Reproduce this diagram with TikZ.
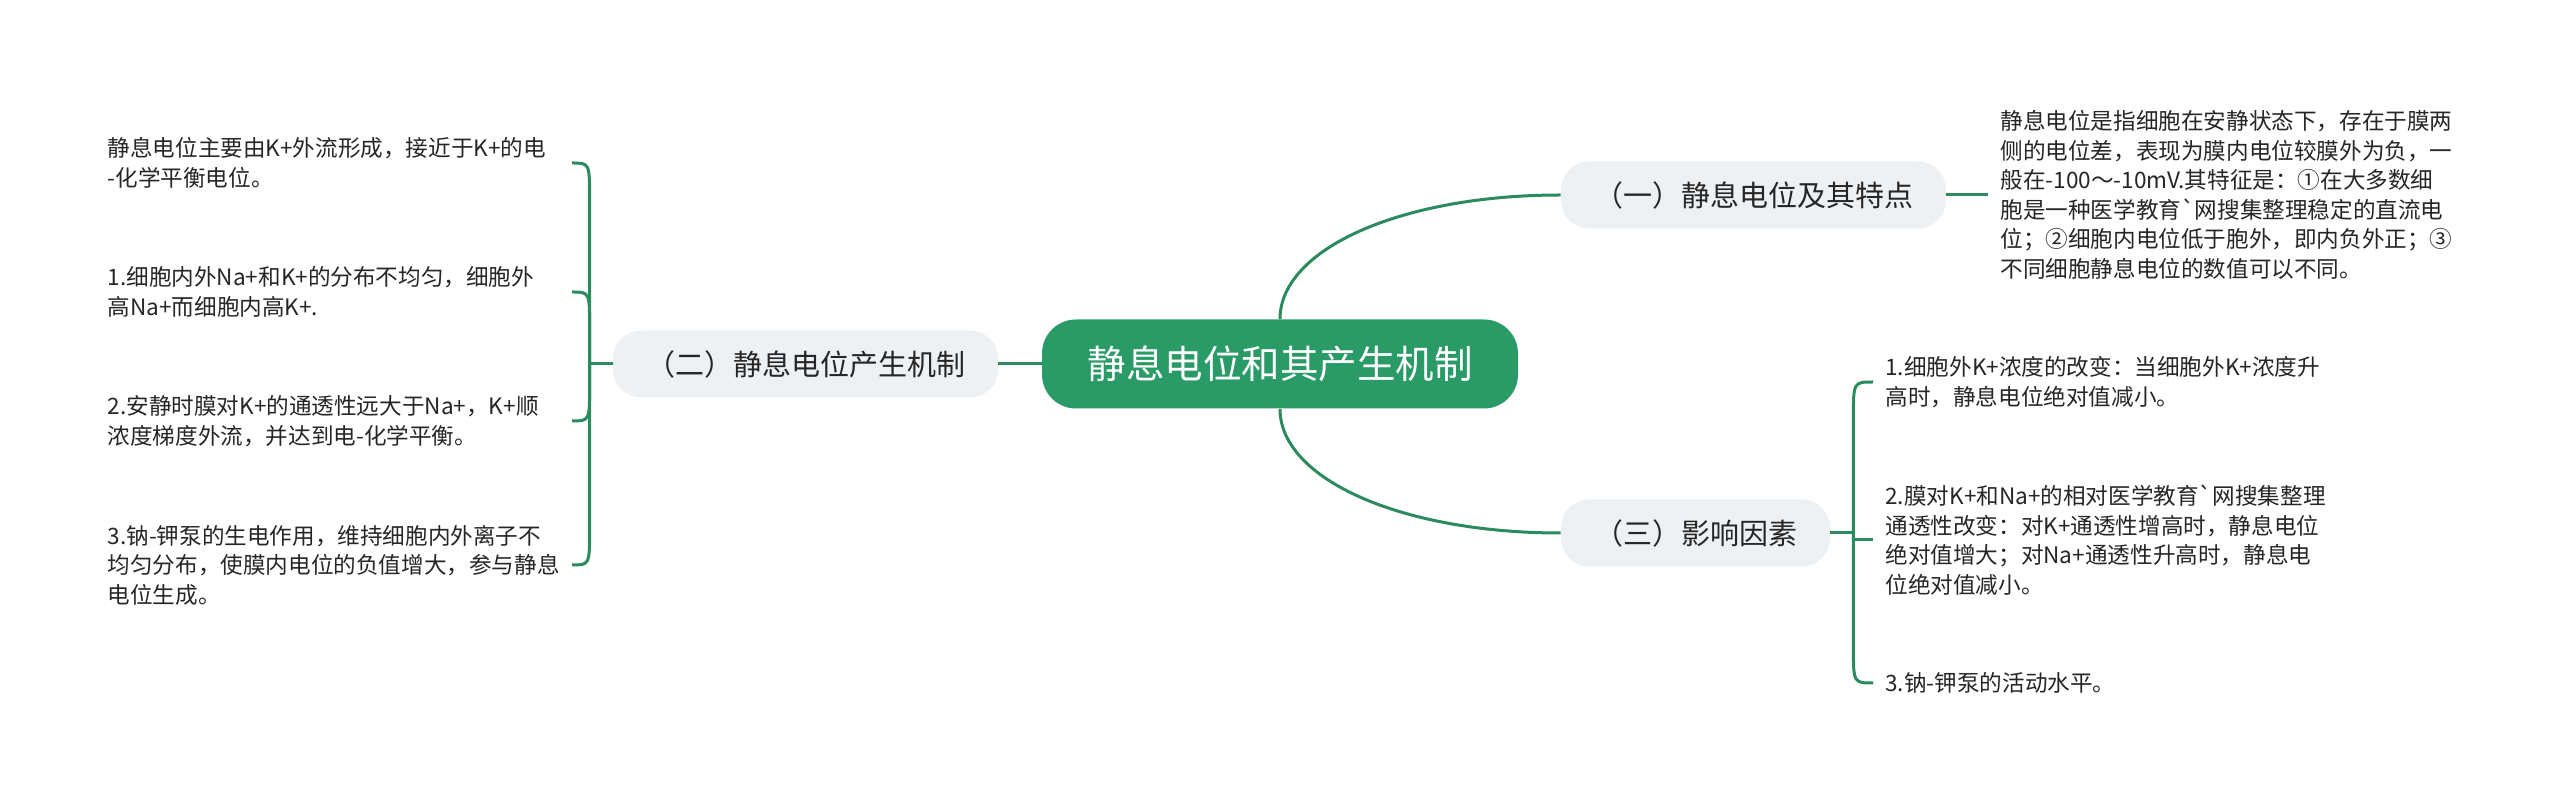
\documentclass[tikz,border=0pt]{standalone}
\usepackage{fontspec}
\setmainfont{Noto Sans CJK SC}
\usetikzlibrary{calc}

\definecolor{rootgreen}{HTML}{2A9A66}
\definecolor{linkgreen}{HTML}{2B8A5E}
\definecolor{topicgray}{HTML}{EEF1F4}
\definecolor{inkgray}{HTML}{262626}

\begin{document}
\begin{tikzpicture}[x=0.5pt, y=-0.5pt,
    root/.style={fill=rootgreen, text=white, rounded corners=17pt, inner xsep=22.75pt, minimum height=44.5pt, font=\fontsize{19.25}{23}\selectfont},
    topic/.style={fill=topicgray, text=inkgray, rounded corners=14pt, inner xsep=16.5pt, minimum height=33.5pt, font=\fontsize{14.5}{17}\selectfont},
    leaf/.style={text=inkgray, align=left, text width=226pt, inner xsep=6pt, inner ysep=0pt, font=\fontsize{11.3}{14.75}\selectfont},
    link/.style={draw=linkgreen, line width=1.5pt}]
            \useasboundingbox (0,0) rectangle (2560,806);
            \fill[white] (0,0) rectangle (2560,806);

            %中心とトピックを書く
            \node[root] (c) at (1280,364) {静息电位和其产生机制};
            \node[topic] (b1) at (1753.5,195) {（一）静息电位及其特点};
            \node[topic] (b2) at (805.5,364) {（二）静息电位产生机制};
            \node[topic] (b3) at (1695.5,533) {（三）影响因素};

            %葉を書く
            \node[leaf, anchor=west] (t1) at (1988,195) {静息电位是指细胞在安静状态下，存在于膜两\\侧的电位差，表现为膜内电位较膜外为负，一\\般在-100～-10mV.其特征是：①在大多数细\\胞是一种医学教育\textasciigrave 网搜集整理稳定的直流电\\位；②细胞内电位低于胞外，即内负外正；③\\不同细胞静息电位的数值可以不同。};

            \node[leaf, anchor=east] (m1) at (572,163) {静息电位主要由K+外流形成，接近于K+的电\\-化学平衡电位。};
            \node[leaf, anchor=east] (m2) at (572,292) {1.细胞内外Na+和K+的分布不均匀，细胞外\\高Na+而细胞内高K+.};
            \node[leaf, anchor=east] (m3) at (572,421) {2.安静时膜对K+的通透性远大于Na+，K+顺\\浓度梯度外流，并达到电-化学平衡。};
            \node[leaf, anchor=east] (m4) at (572,565) {3.钠-钾泵的生电作用，维持细胞内外离子不\\均匀分布，使膜内电位的负值增大，参与静息\\电位生成。};

            \node[leaf, anchor=west] (f1) at (1873,382) {1.细胞外K+浓度的改变：当细胞外K+浓度升\\高时，静息电位绝对值减小。};
            \node[leaf, anchor=west] (f2) at (1873,540) {2.膜对K+和Na+的相对医学教育\textasciigrave 网搜集整理\\通透性改变：对K+通透性增高时，静息电位\\绝对值增大；对Na+通透性升高时，静息电\\位绝对值减小。};
            \node[leaf, anchor=west] (f3) at (1873,683) {3.钠-钾泵的活动水平。};

            %線を書く
            \draw[link] (c.north) .. controls +(0,-70) and +(-160,0) .. (b1.west);
            \draw[link] (c.south) .. controls +(0,70) and +(-160,0) .. (b3.west);
            \draw[link] (c.west) -- (b2.east);
            \draw[link] (b1.east) -- (t1.west);

            \coordinate (lt) at ($(b2.west)+(-23,0)$);
            \draw[link] (b2.west) -- (lt);
            \draw[link] (lt) -- ($(lt |- m1.east)+(0,36)$) .. controls (lt |- m1.east) .. (m1.east);
            \draw[link] (lt) -- ($(lt |- m2.east)+(0,36)$) .. controls (lt |- m2.east) .. (m2.east);
            \draw[link] (lt) -- ($(lt |- m3.east)+(0,-36)$) .. controls (lt |- m3.east) .. (m3.east);
            \draw[link] (lt) -- ($(lt |- m4.east)+(0,-36)$) .. controls (lt |- m4.east) .. (m4.east);

            \coordinate (rt) at ($(b3.east)+(23,0)$);
            \draw[link] (b3.east) -- (rt);
            \draw[link] (rt) -- ($(rt |- f1.west)+(0,36)$) .. controls (rt |- f1.west) .. (f1.west);
            \draw[link] (rt) |- (f2.west);
            \draw[link] (rt) -- ($(rt |- f3.west)+(0,-36)$) .. controls (rt |- f3.west) .. (f3.west);
        \end{tikzpicture}
\end{document}
